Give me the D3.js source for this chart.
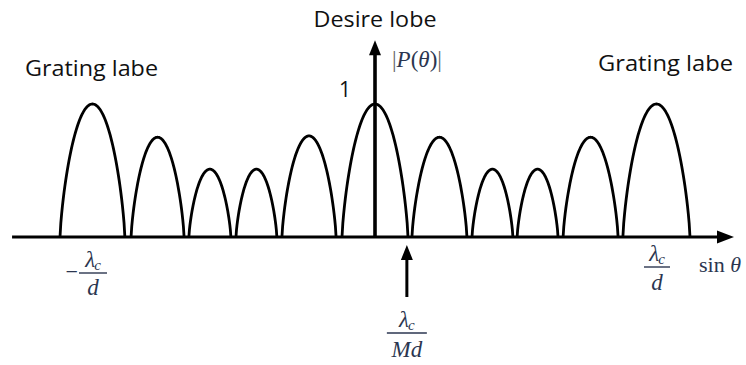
<!DOCTYPE html>
<html>
<head>
<meta charset="utf-8">
<script src="https://cdn.jsdelivr.net/npm/d3@7/dist/d3.min.js"></script>
<style>
  html, body { margin: 0; padding: 0; background: #fff; }
  svg { display: block; }
</style>
</head>
<body>
<svg id="chart" width="746" height="365"></svg>
<script>
// Array-factor magnitude |P(θ)| versus sin θ (units of λc/d)
const lobeStart = [-1.117, -0.865, -0.660, -0.493, -0.330, -0.117, 0.131, 0.344, 0.504, 0.667, 0.879];
const lobeEnd   = [-0.887, -0.677, -0.511, -0.348, -0.138,  0.117, 0.326, 0.489, 0.649, 0.862, 1.117];
const lobePeak  = [1.0, 0.75, 0.51, 0.51, 0.76, 1.0, 0.75, 0.51, 0.51, 0.75, 1.0];

// Marked positions on the sin θ axis
const tickValues = [-1, 0.113, 1];
const tickSign   = ["−", "", ""];
const tickNum    = ["λ", "λ", "λ"];
const tickSub    = ["c", "c", "c"];
const tickDen    = ["d", "Md", "d"];

const axisExtent = [-1.287, 1.273];   // horizontal axis span in λc/d units
const yAxisTop = 1.48;                // vertical axis top in |P| units

const svg = d3.select("#chart");
const x = d3.scaleLinear().domain([-1, 1]).range([93, 657]);
const y = d3.scaleLinear().domain([0, 1]).range([237, 104]);

const INK = "#000";
const LABEL = "#2b3650";
const serif = "'Liberation Serif', 'Times New Roman', serif";
const sans = "'Open Sans', 'Noto Sans', sans-serif";

// Lobe outline: steep sides, rounded top
function lobePoints(a, b, h) {
  const pts = [];
  const n = 80;
  for (let i = 0; i <= n; i++) {
    const t = i / n;
    const u = 2 * t - 1;
    const v = Math.pow(Math.max(0, 1 - u * u), 0.75);
    pts.push([x(a + (b - a) * t), y(h * v)]);
  }
  return pts;
}
const line = d3.line();
const lobes = lobeStart.map((s, i) => ({ s, e: lobeEnd[i], h: lobePeak[i] }));

svg.append("g")
  .selectAll("path")
  .data(lobes)
  .join("path")
  .attr("d", d => line(lobePoints(d.s, d.e, d.h)))
  .attr("fill", "none")
  .attr("stroke", INK)
  .attr("stroke-width", 2.8)
  .attr("stroke-linejoin", "round");

// Horizontal axis with arrow
const y0 = y(0);
const xEnd = x(axisExtent[1]);
svg.append("line")
  .attr("x1", x(axisExtent[0])).attr("x2", xEnd - 12)
  .attr("y1", y0).attr("y2", y0)
  .attr("stroke", INK).attr("stroke-width", 2.8);
svg.append("path")
  .attr("d", `M${xEnd},${y0} L${xEnd - 17},${y0 - 6.5} L${xEnd - 17},${y0 + 6.5} Z`)
  .attr("fill", INK);

// Vertical axis with arrow
const x0 = x(0);
const yTop = y(yAxisTop);
svg.append("line")
  .attr("x1", x0).attr("x2", x0)
  .attr("y1", y0 + 1).attr("y2", yTop + 12)
  .attr("stroke", INK).attr("stroke-width", 3.6);
svg.append("path")
  .attr("d", `M${x0},${yTop} L${x0 - 6},${yTop + 15} L${x0 + 6},${yTop + 15} Z`)
  .attr("fill", INK);

// Pointer arrow to the first null
const xm = x(tickValues[1]);
svg.append("line")
  .attr("x1", xm).attr("x2", xm)
  .attr("y1", 297).attr("y2", 256)
  .attr("stroke", INK).attr("stroke-width", 3);
svg.append("path")
  .attr("d", `M${xm},245 L${xm - 6},260 L${xm + 6},260 Z`)
  .attr("fill", INK);

// Fraction labels under the axis
const fracY = [ {num: 267, bar: 273, den: 295},
                {num: 327, bar: 333, den: 357},
                {num: 261, bar: 267, den: 290} ];
const barW = [28, 40, 26];
tickValues.forEach((v, i) => {
  const cx = x(v);
  const g = svg.append("g").attr("fill", LABEL);
  const f = fracY[i];
  const num = g.append("text")
    .attr("x", cx).attr("y", f.num)
    .attr("text-anchor", "middle")
    .attr("font-family", serif).attr("font-size", 23);
  num.append("tspan").attr("font-style", "italic").text(tickNum[i]);
  num.append("tspan").attr("font-size", 15).attr("font-style", "italic").attr("dx", -1).attr("dy", 3).text(tickSub[i]);
  g.append("line")
    .attr("x1", cx - barW[i] / 2).attr("x2", cx + barW[i] / 2)
    .attr("y1", f.bar).attr("y2", f.bar)
    .attr("stroke", LABEL).attr("stroke-width", 1.4);
  g.append("text")
    .attr("x", cx).attr("y", f.den)
    .attr("text-anchor", "middle")
    .attr("font-family", serif).attr("font-size", 23)
    .attr("font-style", "italic")
    .text(tickDen[i]);
  if (tickSign[i]) {
    g.append("text")
      .attr("x", cx - barW[i] / 2 - 1).attr("y", f.bar + 6)
      .attr("text-anchor", "end")
      .attr("font-family", serif).attr("font-size", 22)
      .text(tickSign[i]);
  }
});

// Axis titles
const sinT = svg.append("text")
  .attr("x", 699).attr("y", 272)
  .attr("fill", LABEL)
  .attr("font-family", serif).attr("font-size", 22);
sinT.append("tspan").text("sin ");
sinT.append("tspan").attr("font-style", "italic").text("θ");

const pT = svg.append("text")
  .attr("x", 392).attr("y", 67)
  .attr("fill", LABEL)
  .attr("font-family", serif).attr("font-size", 23);
pT.append("tspan").attr("fill", "#666").text("|");
pT.append("tspan").attr("font-style", "italic").text("P");
pT.append("tspan").text("(");
pT.append("tspan").attr("font-style", "italic").text("θ");
pT.append("tspan").text(")");
pT.append("tspan").attr("fill", "#666").text("|");

// Annotations
svg.append("text")
  .attr("x", x0).attr("y", 27)
  .attr("text-anchor", "middle")
  .attr("font-family", sans).attr("font-size", 21)
  .attr("textLength", 123).attr("lengthAdjust", "spacingAndGlyphs")
  .attr("fill", "#111")
  .text("Desire lobe");

svg.append("text")
  .attr("x", 345).attr("y", 97)
  .attr("text-anchor", "middle")
  .attr("font-family", sans).attr("font-size", 21)
  .attr("fill", "#111")
  .text("1");

svg.append("text")
  .attr("x", 25).attr("y", 76)
  .attr("font-family", sans).attr("font-size", 22)
  .attr("textLength", 133).attr("lengthAdjust", "spacingAndGlyphs")
  .attr("fill", "#111")
  .text("Grating labe");

svg.append("text")
  .attr("x", 598).attr("y", 71)
  .attr("font-family", sans).attr("font-size", 22)
  .attr("textLength", 135).attr("lengthAdjust", "spacingAndGlyphs")
  .attr("fill", "#111")
  .text("Grating labe");
</script>
</body>
</html>
